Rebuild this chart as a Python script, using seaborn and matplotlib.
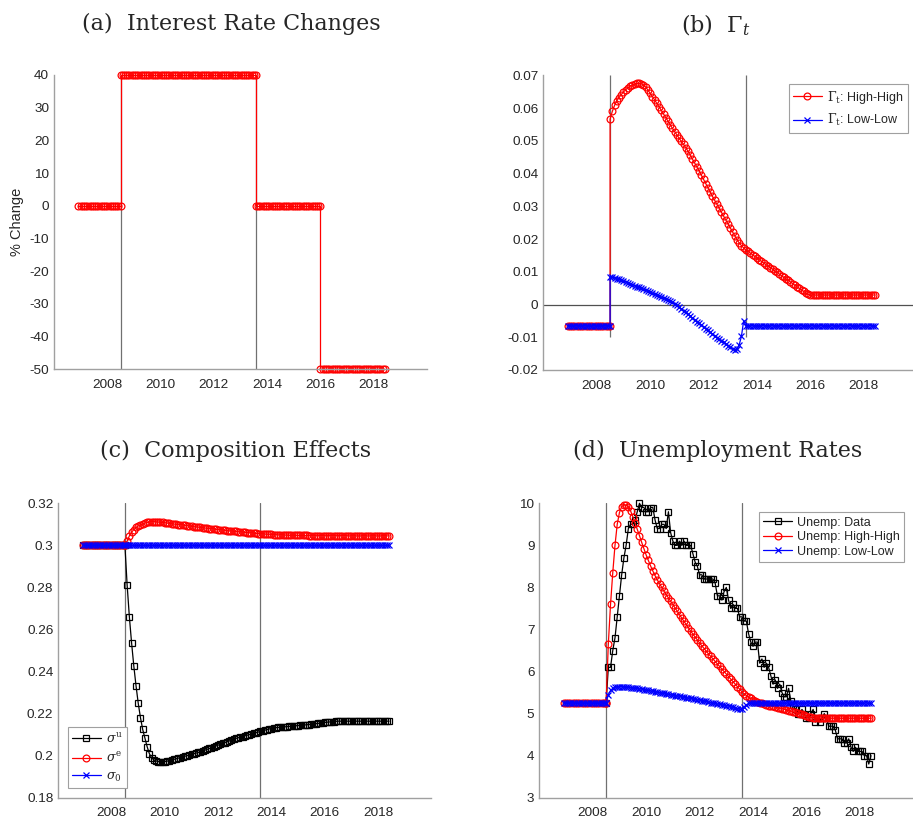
import numpy as np
import pandas as pd
import matplotlib
matplotlib.use("Agg")
import matplotlib.pyplot as plt
import seaborn as sns

# ---------------- data ----------------
pre_start = "2006-12-01"      # first month shown (steady state)
shock_month = "2008-07-01"    # start of simulation (first vertical line)
sim_end = "2018-06-01"
event_months = ["2008-07-01", "2013-08-01"]

# (a) interest-rate path: piecewise constant segments
rate_start = ["2006-12-01", "2008-07-01", "2013-08-01", "2016-01-01"]
rate_end = ["2008-07-01", "2013-08-01", "2016-01-01", "2018-06-01"]
rate_level = [0, 40, 0, -50]

# (b) Gamma_t  (pre-shock steady state, then monthly simulation Jul-2008 .. Jun-2018)
gamma_pre = -0.0065
gamma_hh = [
    0.0566, 0.0590, 0.0608, 0.0622, 0.0632, 0.0641, 0.0649, 0.0656, 0.0662, 0.0667,
    0.0671, 0.0673, 0.0675, 0.0675, 0.0674, 0.0671, 0.0664, 0.0655, 0.0645, 0.0635,
    0.0625, 0.0614, 0.0604, 0.0593, 0.0582, 0.0571, 0.0560, 0.0549, 0.0538, 0.0528,
    0.0518, 0.0508, 0.0498, 0.0489, 0.0479, 0.0468, 0.0456, 0.0444, 0.0432, 0.0420,
    0.0408, 0.0395, 0.0382, 0.0369, 0.0356, 0.0343, 0.0330, 0.0318, 0.0306, 0.0294,
    0.0282, 0.0270, 0.0258, 0.0246, 0.0234, 0.0222, 0.0210, 0.0198, 0.0188, 0.0180,
    0.0173, 0.0166, 0.0162, 0.0157, 0.0152, 0.0147, 0.0142, 0.0137, 0.0132, 0.0127,
    0.0122, 0.0117, 0.0113, 0.0108, 0.0103, 0.0098, 0.0093, 0.0088, 0.0083, 0.0078,
    0.0074, 0.0069, 0.0064, 0.0059, 0.0054, 0.0049, 0.0044, 0.0040, 0.0035, 0.0031,
    0.0028, 0.0029, 0.0029, 0.0029, 0.0029, 0.0029, 0.0029, 0.0029, 0.0029, 0.0029,
    0.0029, 0.0029, 0.0029, 0.0029, 0.0029, 0.0029, 0.0029, 0.0029, 0.0029, 0.0029,
    0.0029, 0.0029, 0.0029, 0.0029, 0.0029, 0.0029, 0.0029, 0.0029, 0.0029, 0.0029,
]
gamma_ll = [
    0.0085, 0.0083, 0.0081, 0.0079, 0.0077, 0.0075, 0.0072, 0.0069, 0.0067, 0.0064,
    0.0061, 0.0058, 0.0055, 0.0052, 0.0049, 0.0046, 0.0043, 0.0040, 0.0037, 0.0034,
    0.0031, 0.0028, 0.0025, 0.0022, 0.0019, 0.0016, 0.0013, 0.0010, 0.0007, 0.0003,
    -0.0002, -0.0008, -0.0013, -0.0019, -0.0024, -0.0030, -0.0035, -0.0041, -0.0046, -0.0052,
    -0.0057, -0.0063, -0.0068, -0.0074, -0.0079, -0.0085, -0.0090, -0.0095, -0.0101, -0.0106,
    -0.0111, -0.0116, -0.0121, -0.0126, -0.0131, -0.0135, -0.0138, -0.0135, -0.0123, -0.0097,
    -0.0050, -0.0065, -0.0065, -0.0065, -0.0065, -0.0065, -0.0065, -0.0065, -0.0065, -0.0065,
    -0.0065, -0.0065, -0.0065, -0.0065, -0.0065, -0.0065, -0.0065, -0.0065, -0.0065, -0.0065,
    -0.0065, -0.0065, -0.0065, -0.0065, -0.0065, -0.0065, -0.0065, -0.0065, -0.0065, -0.0065,
    -0.0065, -0.0065, -0.0065, -0.0065, -0.0065, -0.0065, -0.0065, -0.0065, -0.0065, -0.0065,
    -0.0065, -0.0065, -0.0065, -0.0065, -0.0065, -0.0065, -0.0065, -0.0065, -0.0065, -0.0065,
    -0.0065, -0.0065, -0.0065, -0.0065, -0.0065, -0.0065, -0.0065, -0.0065, -0.0065, -0.0065,
]

# (c) composition effects
sigma_pre = 0.30
sigma_u = [
    0.3000, 0.2812, 0.2661, 0.2537, 0.2427, 0.2333, 0.2249, 0.2181, 0.2125, 0.2083,
    0.2043, 0.2010, 0.1990, 0.1980, 0.1975, 0.1972, 0.1971, 0.1971, 0.1972, 0.1974,
    0.1976, 0.1979, 0.1982, 0.1985, 0.1988, 0.1991, 0.1994, 0.1997, 0.2000, 0.2003,
    0.2006, 0.2009, 0.2012, 0.2015, 0.2019, 0.2022, 0.2026, 0.2030, 0.2034, 0.2038,
    0.2042, 0.2046, 0.2050, 0.2054, 0.2058, 0.2062, 0.2066, 0.2070, 0.2074, 0.2078,
    0.2082, 0.2085, 0.2088, 0.2091, 0.2094, 0.2097, 0.2100, 0.2103, 0.2106, 0.2109,
    0.2112, 0.2115, 0.2118, 0.2121, 0.2124, 0.2127, 0.2129, 0.2131, 0.2133, 0.2134,
    0.2135, 0.2136, 0.2137, 0.2138, 0.2139, 0.2140, 0.2141, 0.2142, 0.2143, 0.2144,
    0.2145, 0.2146, 0.2147, 0.2148, 0.2149, 0.2150, 0.2152, 0.2153, 0.2155, 0.2156,
    0.2158, 0.2159, 0.2160, 0.2161, 0.2162, 0.2163, 0.2164, 0.2164, 0.2164, 0.2164,
    0.2164, 0.2164, 0.2164, 0.2164, 0.2164, 0.2164, 0.2164, 0.2164, 0.2164, 0.2164,
    0.2164, 0.2164, 0.2164, 0.2164, 0.2164, 0.2164, 0.2164, 0.2164, 0.2164, 0.2164,
]
sigma_e = [
    0.3000, 0.3020, 0.3045, 0.3062, 0.3075, 0.3085, 0.3092, 0.3098, 0.3103, 0.3106,
    0.3109, 0.3111, 0.3112, 0.3113, 0.3112, 0.3111, 0.3110, 0.3109, 0.3108, 0.3106,
    0.3105, 0.3103, 0.3102, 0.3100, 0.3099, 0.3098, 0.3097, 0.3095, 0.3094, 0.3092,
    0.3091, 0.3089, 0.3088, 0.3087, 0.3085, 0.3084, 0.3083, 0.3081, 0.3080, 0.3079,
    0.3078, 0.3076, 0.3075, 0.3074, 0.3073, 0.3072, 0.3070, 0.3069, 0.3068, 0.3067,
    0.3066, 0.3065, 0.3064, 0.3063, 0.3062, 0.3061, 0.3060, 0.3059, 0.3058, 0.3057,
    0.3056, 0.3055, 0.3054, 0.3054, 0.3053, 0.3053, 0.3052, 0.3051, 0.3051, 0.3050,
    0.3050, 0.3049, 0.3049, 0.3049, 0.3048, 0.3048, 0.3048, 0.3048, 0.3047, 0.3047,
    0.3047, 0.3047, 0.3047, 0.3046, 0.3046, 0.3046, 0.3046, 0.3046, 0.3046, 0.3046,
    0.3046, 0.3046, 0.3046, 0.3046, 0.3046, 0.3046, 0.3046, 0.3046, 0.3046, 0.3046,
    0.3046, 0.3045, 0.3045, 0.3045, 0.3045, 0.3045, 0.3045, 0.3045, 0.3045, 0.3045,
    0.3045, 0.3045, 0.3045, 0.3045, 0.3045, 0.3045, 0.3045, 0.3045, 0.3045, 0.3045,
]
sigma_0 = [
    0.30, 0.30, 0.30, 0.30, 0.30, 0.30, 0.30, 0.30, 0.30, 0.30,
    0.30, 0.30, 0.30, 0.30, 0.30, 0.30, 0.30, 0.30, 0.30, 0.30,
    0.30, 0.30, 0.30, 0.30, 0.30, 0.30, 0.30, 0.30, 0.30, 0.30,
    0.30, 0.30, 0.30, 0.30, 0.30, 0.30, 0.30, 0.30, 0.30, 0.30,
    0.30, 0.30, 0.30, 0.30, 0.30, 0.30, 0.30, 0.30, 0.30, 0.30,
    0.30, 0.30, 0.30, 0.30, 0.30, 0.30, 0.30, 0.30, 0.30, 0.30,
    0.30, 0.30, 0.30, 0.30, 0.30, 0.30, 0.30, 0.30, 0.30, 0.30,
    0.30, 0.30, 0.30, 0.30, 0.30, 0.30, 0.30, 0.30, 0.30, 0.30,
    0.30, 0.30, 0.30, 0.30, 0.30, 0.30, 0.30, 0.30, 0.30, 0.30,
    0.30, 0.30, 0.30, 0.30, 0.30, 0.30, 0.30, 0.30, 0.30, 0.30,
    0.30, 0.30, 0.30, 0.30, 0.30, 0.30, 0.30, 0.30, 0.30, 0.30,
    0.30, 0.30, 0.30, 0.30, 0.30, 0.30, 0.30, 0.30, 0.30, 0.30,
]

# (d) unemployment rates
unemp_pre = 5.25
unemp_data = [
    5.25, 6.1, 6.1, 6.5, 6.8, 7.3,
    7.8, 8.3, 8.7, 9.0, 9.4, 9.5, 9.5, 9.6, 9.8, 10.0, 9.9, 9.9,
    9.8, 9.8, 9.9, 9.9, 9.6, 9.4, 9.4, 9.5, 9.5, 9.4, 9.8, 9.3,
    9.1, 9.0, 9.0, 9.1, 9.0, 9.1, 9.0, 9.0, 9.0, 8.8, 8.6, 8.5,
    8.3, 8.3, 8.2, 8.2, 8.2, 8.2, 8.2, 8.1, 7.8, 7.8, 7.7, 7.9,
    8.0, 7.7, 7.5, 7.6, 7.5, 7.5, 7.3, 7.3, 7.2, 7.2, 6.9, 6.7,
    6.6, 6.7, 6.7, 6.2, 6.3, 6.1, 6.2, 6.1, 5.9, 5.7, 5.8, 5.6,
    5.7, 5.5, 5.4, 5.4, 5.6, 5.3, 5.2, 5.1, 5.0, 5.0, 5.1, 5.0,
    4.9, 4.9, 5.0, 5.1, 4.8, 4.9, 4.8, 4.9, 5.0, 4.9, 4.7, 4.7,
    4.7, 4.6, 4.4, 4.4, 4.4, 4.3, 4.3, 4.4, 4.2, 4.1, 4.2, 4.1,
    4.1, 4.1, 4.0, 4.0, 3.8, 4.0,
]
unemp_hh = [
    5.25, 6.65, 7.60, 8.35, 9.00, 9.50, 9.78, 9.92, 9.96, 9.96,
    9.92, 9.82, 9.68, 9.53, 9.38, 9.23, 9.07, 8.92, 8.77, 8.64,
    8.51, 8.39, 8.28, 8.18, 8.09, 8.00, 7.91, 7.83, 7.75, 7.67,
    7.59, 7.51, 7.43, 7.35, 7.27, 7.19, 7.12, 7.04, 6.96, 6.89,
    6.82, 6.75, 6.68, 6.61, 6.55, 6.48, 6.42, 6.36, 6.30, 6.24,
    6.18, 6.12, 6.06, 6.00, 5.94, 5.88, 5.82, 5.76, 5.70, 5.64,
    5.58, 5.52, 5.47, 5.43, 5.39, 5.36, 5.33, 5.30, 5.28, 5.26,
    5.24, 5.22, 5.21, 5.19, 5.18, 5.17, 5.15, 5.14, 5.13, 5.12,
    5.10, 5.09, 5.07, 5.06, 5.04, 5.03, 5.01, 5.00, 4.98, 4.96,
    4.94, 4.92, 4.91, 4.90, 4.89, 4.89, 4.89, 4.89, 4.89, 4.89,
    4.89, 4.89, 4.89, 4.89, 4.89, 4.89, 4.89, 4.89, 4.89, 4.89,
    4.89, 4.89, 4.89, 4.89, 4.89, 4.89, 4.89, 4.89, 4.89, 4.89,
]
unemp_ll = [
    5.25, 5.45, 5.55, 5.60, 5.63, 5.64, 5.64, 5.64, 5.64, 5.63,
    5.63, 5.62, 5.61, 5.61, 5.60, 5.59, 5.58, 5.57, 5.56, 5.55,
    5.54, 5.53, 5.52, 5.51, 5.50, 5.49, 5.48, 5.47, 5.46, 5.45,
    5.44, 5.43, 5.42, 5.41, 5.40, 5.39, 5.38, 5.37, 5.36, 5.35,
    5.34, 5.33, 5.32, 5.31, 5.30, 5.29, 5.28, 5.26, 5.25, 5.24,
    5.23, 5.22, 5.21, 5.20, 5.19, 5.18, 5.16, 5.15, 5.13, 5.12,
    5.10, 5.11, 5.16, 5.21, 5.24, 5.25, 5.25, 5.25, 5.25, 5.25,
    5.25, 5.25, 5.25, 5.25, 5.25, 5.25, 5.25, 5.25, 5.25, 5.25,
    5.25, 5.25, 5.25, 5.25, 5.25, 5.25, 5.25, 5.25, 5.25, 5.25,
    5.25, 5.25, 5.25, 5.25, 5.25, 5.25, 5.25, 5.25, 5.25, 5.25,
    5.25, 5.25, 5.25, 5.25, 5.25, 5.25, 5.25, 5.25, 5.25, 5.25,
    5.25, 5.25, 5.25, 5.25, 5.25, 5.25, 5.25, 5.25, 5.25, 5.25,
]

x_ticks = [2008, 2010, 2012, 2014, 2016, 2018]
a_yticks = [-50, -40, -30, -20, -10, 0, 10, 20, 30, 40]
b_yticks = [-0.02, -0.01, 0, 0.01, 0.02, 0.03, 0.04, 0.05, 0.06, 0.07]
c_yticks = [0.18, 0.2, 0.22, 0.24, 0.26, 0.28, 0.3, 0.32]
d_yticks = [3, 4, 5, 6, 7, 8, 9, 10]

titles = ["(a)  Interest Rate Changes", r"(b)  $\Gamma_t$",
          "(c)  Composition Effects", "(d)  Unemployment Rates"]


# ---------------- helpers ----------------
def decimal_year(months):
    months = pd.DatetimeIndex(months)
    return np.asarray(months.year + (months.month - 1) / 12.0, dtype=float)


pre_x = decimal_year(pd.date_range(pre_start, shock_month, freq="MS"))
sim_x = decimal_year(pd.date_range(shock_month, sim_end, freq="MS"))
event_x = decimal_year(event_months)


def model_series(pre_value, sim_values):
    x = np.concatenate([pre_x, sim_x])
    y = np.concatenate([np.full(len(pre_x), pre_value), np.asarray(sim_values, float)])
    return x, y


rate_x, rate_y = [], []
for s, e, lv in zip(rate_start, rate_end, rate_level):
    seg = decimal_year(pd.date_range(s, e, freq="MS"))
    rate_x.extend(seg)
    rate_y.extend([lv] * len(seg))

RED, BLUE, BLACK = "#FF0000", "#0000FF", "#000000"
AXIS_GREY = "#A0A0A0"
EVENT_GREY = "#707070"
TEXT_DARK = "#262626"

sns.set_style("white")
plt.rcParams.update({
    "font.family": ["Liberation Sans", "DejaVu Sans"],
    "mathtext.fontset": "dejavuserif",
    "axes.unicode_minus": False,
})

W, H = 913, 825
fig = plt.figure(figsize=(W / 100, H / 100), dpi=100)


def add_axes(left, top, width, height):
    return fig.add_axes([left / W, 1 - (top + height) / H, width / W, height / H])


ax_a = add_axes(54, 75, 373, 294)
ax_b = add_axes(543.3, 75.3, 374, 294.7)
ax_c = add_axes(58.3, 503.3, 373, 294.4)
ax_d = add_axes(539.3, 503.3, 374, 294.4)

MS = {"o": 4.9, "x": 4.4, "s": 4.4}


def line(ax, x, y, color, marker, label=None):
    sns.lineplot(x=np.asarray(x, float), y=np.asarray(y, float), ax=ax,
                 estimator=None, sort=False, color=color, linewidth=0.9,
                 marker=marker, markersize=MS[marker], markerfacecolor="none",
                 markeredgecolor=color, markeredgewidth=0.9,
                 label=label, clip_on=False, legend=False)


def style(ax, yticks, ylim):
    ax.set_xlim(2006, 2020)
    ax.set_ylim(*ylim)
    ax.set_xticks(x_ticks)
    ax.set_xticklabels([str(t) for t in x_ticks])
    ax.set_yticks(yticks)
    ax.set_yticklabels([f"{v:g}" for v in yticks])
    for s in ["top", "right"]:
        ax.spines[s].set_visible(False)
    for s in ["left", "bottom"]:
        ax.spines[s].set_color(AXIS_GREY)
        ax.spines[s].set_linewidth(1.0)
    ax.tick_params(direction="in", length=2.5, width=0.8, color=AXIS_GREY,
                   labelcolor=TEXT_DARK, labelsize=9.7)
    ax.tick_params(axis="x", pad=7)
    ax.tick_params(axis="y", pad=3.5)
    ax.set_xlabel("")
    ax.set_ylabel("")
    ax.set_facecolor("white")


def legend(ax, loc, anchor, spacing):
    leg = ax.legend(loc=loc, bbox_to_anchor=anchor, borderaxespad=0,
                    fancybox=False, edgecolor=AXIS_GREY, framealpha=1,
                    fontsize=9, handlelength=2.3, handletextpad=0.4,
                    labelspacing=spacing, borderpad=0.35)
    leg.get_frame().set_linewidth(0.8)
    for t in leg.get_texts():
        t.set_color(TEXT_DARK)


# (a)
for xv in event_x:
    ax_a.axvline(xv, color=EVENT_GREY, linewidth=0.9, zorder=1)
line(ax_a, rate_x, rate_y, RED, "o")
style(ax_a, a_yticks, (-50, 40))
ax_a.set_ylabel("% Change", fontsize=10.5, color=TEXT_DARK)
ax_a.yaxis.set_label_coords(-0.080, 0.5)

# (b)
ax_b.vlines(event_x, -0.01, 0.07, color=EVENT_GREY, linewidth=0.9, zorder=1)
ax_b.axhline(0, color="#505050", linewidth=0.9, zorder=1)
bx, by = model_series(gamma_pre, gamma_hh)
line(ax_b, bx, by, RED, "o", r"$\Gamma_{\rm t}$: High-High")
bx, by = model_series(gamma_pre, gamma_ll)
line(ax_b, bx, by, BLUE, "x", r"$\Gamma_{\rm t}$: Low-Low")
style(ax_b, b_yticks, (-0.02, 0.07))
legend(ax_b, "upper right", (0.974, 0.969), 0.5)

# (c)
for xv in event_x:
    ax_c.axvline(xv, color=EVENT_GREY, linewidth=0.9, zorder=1)
cx, cy = model_series(sigma_pre, sigma_u)
line(ax_c, cx, cy, BLACK, "s", r"$\sigma^{\rm u}$")
cx, cy = model_series(sigma_pre, sigma_e)
line(ax_c, cx, cy, RED, "o", r"$\sigma^{\rm e}$")
cx, cy = model_series(sigma_pre, sigma_0)
line(ax_c, cx, cy, BLUE, "x", r"$\sigma_{0}$")
style(ax_c, c_yticks, (0.18, 0.32))
legend(ax_c, "lower left", (0.025, 0.032), 0.45)

# (d)
for xv in event_x:
    ax_d.axvline(xv, color=EVENT_GREY, linewidth=0.9, zorder=1)
line(ax_d, sim_x, unemp_data, BLACK, "s", "Unemp: Data")
dx, dy = model_series(unemp_pre, unemp_hh)
line(ax_d, dx, dy, RED, "o", "Unemp: High-High")
dx, dy = model_series(unemp_pre, unemp_ll)
line(ax_d, dx, dy, BLUE, "x", "Unemp: Low-Low")
style(ax_d, d_yticks, (3, 10))
legend(ax_d, "upper right", (0.976, 0.969), 0.2)

# panel titles
title_pos = [(231, 24), (716, 25), (236, 451), (718, 451)]
for (tx, ty), txt in zip(title_pos, titles):
    fig.text(tx / W, 1 - ty / H, txt, ha="center", va="center",
             fontsize=16, family="DejaVu Serif", color=TEXT_DARK)

fig.savefig("out.png", dpi=100, facecolor="white")
